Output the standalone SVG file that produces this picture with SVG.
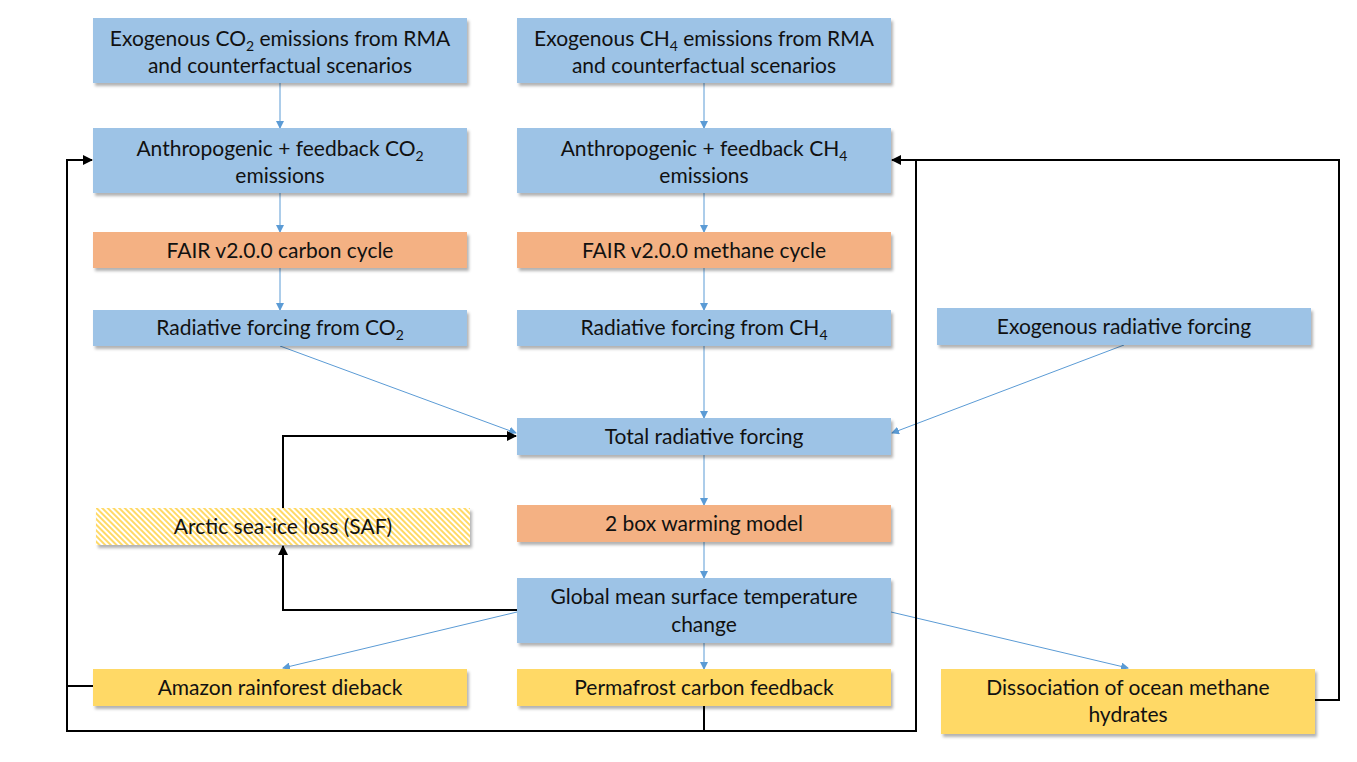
<svg xmlns="http://www.w3.org/2000/svg" width="1357" height="762" viewBox="0 0 1357 762">
<style>
.box{stroke:none;filter:url(#sh)}
.blue{fill:#9DC3E6}
.orange{fill:#F4B183}
.yellow{fill:#FFD966}
.hatch{fill:url(#hp)}
text{font-family:Lato,"Open Sans","Liberation Sans",sans-serif;font-size:21px;fill:#111;text-anchor:middle}
.sub{font-size:14px}
.bl{stroke:#5B9BD5;stroke-width:1;fill:none;marker-end:url(#ab)}
.bk{stroke:#000;stroke-width:2;fill:none}
.bka{stroke:#000;stroke-width:2;fill:none;marker-end:url(#ak)}
</style>
<defs>
<filter id="sh" x="-5%" y="-20%" width="110%" height="150%">
<feDropShadow dx="2" dy="3" stdDeviation="1.5" flood-color="#000" flood-opacity="0.3"/>
</filter>
<pattern id="hp" width="4" height="4" patternUnits="userSpaceOnUse" patternTransform="rotate(-45)">
<rect width="4" height="4" fill="#FFFFFF"/>
<rect width="2" height="4" fill="#FFD966"/>
</pattern>
<marker id="ab" markerWidth="8" markerHeight="8" refX="7" refY="4" orient="auto" markerUnits="userSpaceOnUse">
<path d="M0,0 L8,4 L0,8 z" fill="#5B9BD5"/>
</marker>
<marker id="ak" markerWidth="10" markerHeight="10" refX="9" refY="5" orient="auto" markerUnits="userSpaceOnUse">
<path d="M0,0 L10,5 L0,10 z" fill="#000"/>
</marker>
</defs>
<rect width="1357" height="762" fill="#fff"/>

<g id="connectors">
<line class="bl" x1="280" y1="83" x2="280" y2="128"/>
<line class="bl" x1="280" y1="193" x2="280" y2="232"/>
<line class="bl" x1="280" y1="268" x2="280" y2="310"/>
<line class="bl" x1="280" y1="346" x2="516" y2="433"/>
<line class="bl" x1="704" y1="83" x2="704" y2="128"/>
<line class="bl" x1="704" y1="193" x2="704" y2="232"/>
<line class="bl" x1="704" y1="268" x2="704" y2="310"/>
<line class="bl" x1="704" y1="346" x2="704" y2="418"/>
<line class="bl" x1="1124" y1="345" x2="892" y2="433"/>
<line class="bl" x1="704" y1="455" x2="704" y2="505"/>
<line class="bl" x1="704" y1="542" x2="704" y2="578"/>
<line class="bl" x1="704" y1="643" x2="704" y2="669"/>
<line class="bl" x1="517" y1="612" x2="283" y2="668"/>
<line class="bl" x1="891" y1="612" x2="1128" y2="668"/>
<polyline class="bka" points="517,610 283,610 283,546"/>
<polyline class="bka" points="283,508 283,436 516,436"/>
<polyline class="bka" points="93,686 67,686 67,160 92,160"/>
<polyline class="bk" points="67,686 67,731 916,731 916,160"/>
<line class="bk" x1="704" y1="706" x2="704" y2="731"/>
<polyline class="bka" points="1315,700 1339,700 1339,160 892,160"/>
</g>

<g id="exo-co2"><rect class="box blue" x="93" y="18" width="374" height="65"/>
<text x="280" y="46">Exogenous CO<tspan class="sub" dy="5">2</tspan><tspan dy="-5"> emissions from RMA</tspan></text>
<text x="280" y="73">and counterfactual scenarios</text></g>
<g id="exo-ch4"><rect class="box blue" x="517" y="18" width="374" height="65"/>
<text x="704" y="46">Exogenous CH<tspan class="sub" dy="5">4</tspan><tspan dy="-5"> emissions from RMA</tspan></text>
<text x="704" y="73">and counterfactual scenarios</text></g>
<g id="anthro-co2"><rect class="box blue" x="93" y="128" width="374" height="65"/>
<text x="280" y="156">Anthropogenic + feedback CO<tspan class="sub" dy="5">2</tspan></text>
<text x="280" y="183">emissions</text></g>
<g id="anthro-ch4"><rect class="box blue" x="517" y="128" width="374" height="65"/>
<text x="704" y="156">Anthropogenic + feedback CH<tspan class="sub" dy="5">4</tspan></text>
<text x="704" y="183">emissions</text></g>
<g id="fair-carbon"><rect class="box orange" x="93" y="232" width="374" height="36"/>
<text x="280" y="258">FAIR v2.0.0 carbon cycle</text></g>
<g id="fair-methane"><rect class="box orange" x="517" y="232" width="374" height="36"/>
<text x="704" y="258">FAIR v2.0.0 methane cycle</text></g>
<g id="rf-co2"><rect class="box blue" x="93" y="310" width="374" height="36"/>
<text x="280" y="335">Radiative forcing from CO<tspan class="sub" dy="5">2</tspan></text></g>
<g id="rf-ch4"><rect class="box blue" x="517" y="310" width="374" height="36"/>
<text x="704" y="335">Radiative forcing from CH<tspan class="sub" dy="5">4</tspan></text></g>
<g id="exo-rf"><rect class="box blue" x="937" y="308" width="374" height="37"/>
<text x="1124" y="334">Exogenous radiative forcing</text></g>
<g id="total-rf"><rect class="box blue" x="517" y="418" width="374" height="37"/>
<text x="704" y="444">Total radiative forcing</text></g>
<g id="arctic"><rect class="box hatch" x="96" y="508" width="374" height="37"/>
<text x="283" y="534">Arctic sea-ice loss (SAF)</text></g>
<g id="two-box"><rect class="box orange" x="517" y="505" width="374" height="37"/>
<text x="704" y="531">2 box warming model</text></g>
<g id="gmst"><rect class="box blue" x="517" y="578" width="374" height="65"/>
<text x="704" y="604">Global mean surface temperature</text>
<text x="704" y="632">change</text></g>
<g id="amazon"><rect class="box yellow" x="93" y="669" width="374" height="37"/>
<text x="280" y="695">Amazon rainforest dieback</text></g>
<g id="permafrost"><rect class="box yellow" x="517" y="669" width="374" height="37"/>
<text x="704" y="695">Permafrost carbon feedback</text></g>
<g id="hydrates"><rect class="box yellow" x="941" y="669" width="374" height="65"/>
<text x="1128" y="695">Dissociation of ocean methane</text>
<text x="1128" y="722">hydrates</text></g>
</svg>
